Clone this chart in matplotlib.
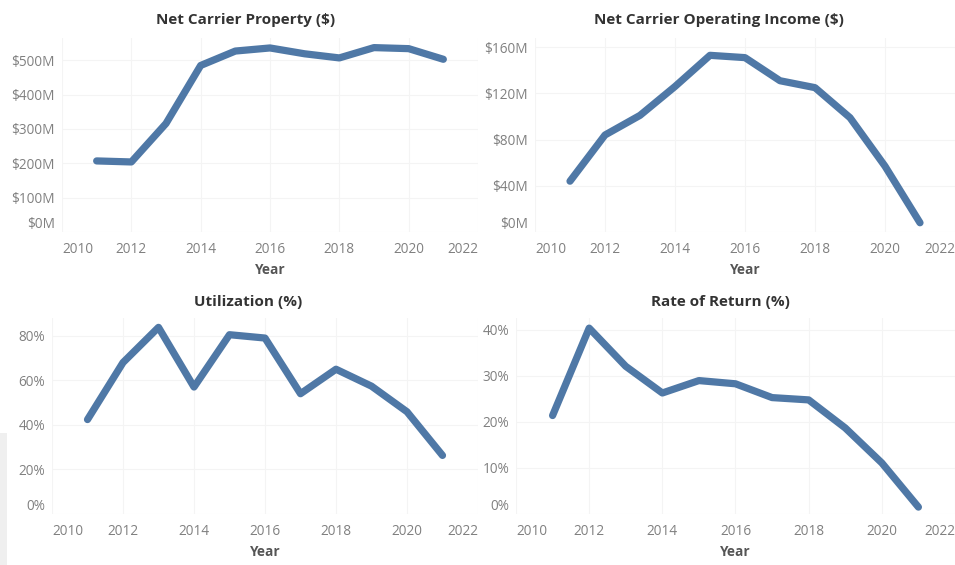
import matplotlib
matplotlib.use("Agg")
import matplotlib.pyplot as plt
from matplotlib.patches import Rectangle

years = [2011, 2012, 2013, 2014, 2015, 2016, 2017, 2018, 2019, 2020, 2021]
net_property_m = [207, 204, 316, 485, 527, 536, 519, 507, 537, 534, 503]
operating_income_m = [44, 84, 101, 126, 153, 151, 131, 125, 99, 57, 8]
utilization_pct = [42.4, 68, 83.8, 57, 80.5, 79, 54, 65, 57.4, 45.9, 26.3]
rate_of_return_pct = [21.4, 40.4, 32.1, 26.3, 29.0, 28.3, 25.3, 24.8, 18.7, 11.1, 1.5]

x_ticks = [2010, 2012, 2014, 2016, 2018, 2020, 2022]
prop_ticks = [0, 100, 200, 300, 400, 500]
inc_ticks = [0, 40, 80, 120, 160]
util_ticks = [0, 20, 40, 60, 80]
ror_ticks = [0, 10, 20, 30, 40]

titles = ["Net Carrier Property ($)", "Net Carrier Operating Income ($)",
          "Utilization (%)", "Rate of Return (%)"]

FONT = "Open Sans"
LINE = "#4f78a6"
TICK = "#808080"
TITLE = "#333333"
GRID = "#f4f4f4"

W, H = 955, 565
fig = plt.figure(figsize=(W / 100, H / 100), dpi=100)
fig.patch.set_facecolor("white")
fig.patches.append(Rectangle((0, 0), 7 / W, (565 - 433) / H, transform=fig.transFigure,
                             facecolor="#efefef", edgecolor="none", zorder=0))


def px_axes(l, t, r, b):
    return fig.add_axes([l / W, (H - b) / H, (r - l) / W, (b - t) / H])


panels = [
    dict(box=(62, 38, 478, 232), y=net_property_m, yt=prop_ticks, ylim=(0, 565),
         fmt=lambda v: f"${v}M", title_xy=(246, 20)),
    dict(box=(535, 38, 955, 232), y=operating_income_m, yt=inc_ticks, ylim=(0, 168),
         fmt=lambda v: f"${v}M", title_xy=(719, 20)),
    dict(box=(52, 318, 478, 514), y=utilization_pct, yt=util_ticks, ylim=(0, 88),
         fmt=lambda v: f"{v}%", title_xy=(248, 302)),
    dict(box=(516, 318, 955, 514), y=rate_of_return_pct, yt=ror_ticks, ylim=(0, 42.6),
         fmt=lambda v: f"{v}%", title_xy=(720, 302)),
]

for p, title in zip(panels, titles):
    ax = px_axes(*p["box"])
    ax.plot(years, p["y"], color=LINE, lw=5.2, solid_capstyle="round",
            solid_joinstyle="round", zorder=3)
    ax.set_xlim(2010, 2022)
    ax.set_ylim(*p["ylim"])
    ax.set_xticks(x_ticks)
    ax.set_xticklabels([str(t) for t in x_ticks], fontsize=9.8, color=TICK, family=FONT)
    ax.set_yticks(p["yt"])
    ax.set_yticklabels([p["fmt"](v) for v in p["yt"]], fontsize=9.8, color=TICK, family=FONT)
    xl = ax.get_xticklabels()
    xl[0].set_horizontalalignment("left")
    xl[-1].set_horizontalalignment("right")
    ax.get_yticklabels()[0].set_verticalalignment("bottom")
    ax.tick_params(axis="x", length=0, pad=7)
    ax.tick_params(axis="y", length=0, pad=5)
    for s in ax.spines.values():
        s.set_visible(False)
    ax.grid(True, color=GRID, lw=0.8)
    ax.set_axisbelow(True)
    ax.set_xlabel("Year", fontsize=9.8, fontweight="bold", color="#555555", family=FONT,
                  labelpad=4.5)
    fig.text(p["title_xy"][0] / W, 1 - p["title_xy"][1] / H, title, ha="center", va="center",
             fontsize=11, fontweight="bold", color=TITLE, family=FONT)

fig.savefig("out.png", dpi=100, facecolor="white")
